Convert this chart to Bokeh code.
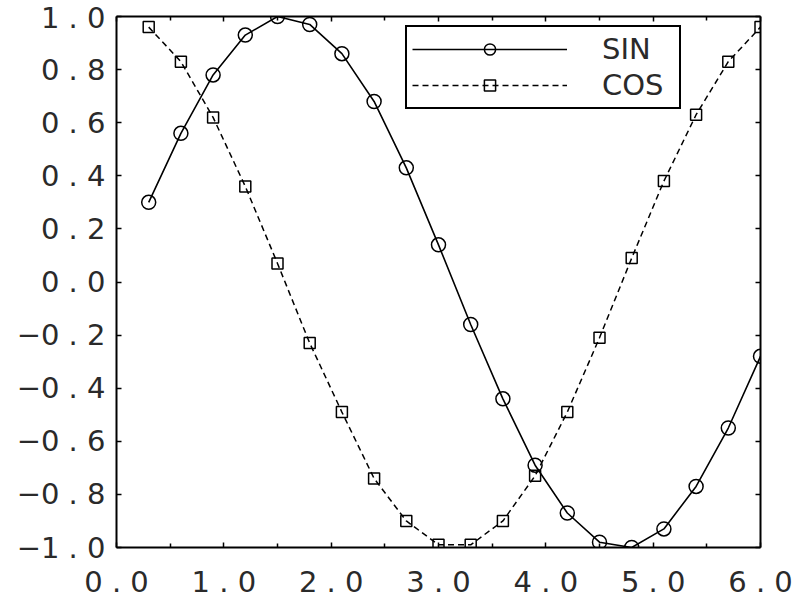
from bokeh.plotting import figure
from bokeh.models import Range1d, LinearAxis, FixedTicker, Legend, LegendItem, ColumnDataSource
from bokeh.embed import file_html
from bokeh.resources import INLINE

# ---- data ----
x_vals = [0.3, 0.6, 0.9, 1.2, 1.5, 1.8, 2.1, 2.4, 2.7, 3.0,
          3.3, 3.6, 3.9, 4.2, 4.5, 4.8, 5.1, 5.4, 5.7, 6.0]
sin_vals = [0.30, 0.56, 0.78, 0.93, 1.00, 0.97, 0.86, 0.68, 0.43, 0.14,
            -0.16, -0.44, -0.69, -0.87, -0.98, -1.00, -0.93, -0.77, -0.55, -0.28]
cos_vals = [0.96, 0.83, 0.62, 0.36, 0.07, -0.23, -0.49, -0.74, -0.90, -0.99,
            -0.99, -0.90, -0.73, -0.49, -0.21, 0.09, 0.38, 0.63, 0.83, 0.96]

x_ticks = [0.0, 1.0, 2.0, 3.0, 4.0, 5.0, 6.0]
x_tick_labels = ["0 . 0", "1 . 0", "2 . 0", "3 . 0", "4 . 0", "5 . 0", "6 . 0"]
x_minor_ticks = [0.5, 1.5, 2.5, 3.5, 4.5, 5.5]
y_ticks = [-1.0, -0.8, -0.6, -0.4, -0.2, 0.0, 0.2, 0.4, 0.6, 0.8, 1.0]
y_tick_labels = ["\u22121 . 0", "\u22120 . 8", "\u22120 . 6", "\u22120 . 4", "\u22120 . 2",
                 "0 . 0", "0 . 2", "0 . 4", "0 . 6", "0 . 8", "1 . 0"]
series_labels = ["SIN", "COS"]

src = ColumnDataSource(dict(x=x_vals, s=sin_vals, c=cos_vals))

FONT = "DejaVu Sans"
TXT = "#2a2a2a"

p = figure(width=794, height=601, x_range=Range1d(0, 6), y_range=Range1d(-1, 1),
           output_backend="svg", toolbar_location=None,
           x_axis_location=None, y_axis_location=None,
           min_border_left=116, min_border_right=34, min_border_top=16, min_border_bottom=53)
p.grid.visible = False
p.outline_line_color = None
p.background_fill_color = "white"
p.border_fill_color = "white"


def style_axis(ax):
    ax.axis_line_width = 2
    ax.axis_line_color = "black"
    ax.major_tick_in = 5
    ax.major_tick_out = 0
    ax.minor_tick_in = 4
    ax.minor_tick_out = 0
    ax.major_tick_line_width = 1.5
    ax.minor_tick_line_width = 1.5
    ax.major_label_text_font = FONT
    ax.major_label_text_font_size = "29px"
    ax.major_label_text_color = TXT


bottom = LinearAxis(ticker=FixedTicker(ticks=x_ticks, minor_ticks=x_minor_ticks),
                    major_label_overrides=dict(zip(x_ticks, x_tick_labels)))
style_axis(bottom)
bottom.major_label_standoff = 17
top = LinearAxis(ticker=FixedTicker(ticks=x_ticks, minor_ticks=x_minor_ticks),
                 major_label_overrides={t: "" for t in x_ticks})
style_axis(top)
top.major_label_standoff = 0
left = LinearAxis(ticker=FixedTicker(ticks=y_ticks),
                  major_label_overrides=dict(zip(y_ticks, y_tick_labels)))
style_axis(left)
left.major_label_standoff = 11
right = LinearAxis(ticker=FixedTicker(ticks=y_ticks),
                   major_label_overrides={t: "" for t in y_ticks})
style_axis(right)
right.major_label_standoff = 0

p.add_layout(bottom, "below")
p.add_layout(top, "above")
p.add_layout(left, "left")
p.add_layout(right, "right")

sin_line = p.line("x", "s", source=src, line_color="black", line_width=1.6)
sin_pts = p.scatter("x", "s", source=src, marker="circle", size=14,
                    fill_color=None, line_color="black", line_width=1.5)
cos_line = p.line("x", "c", source=src, line_color="black", line_width=1.5, line_dash="6 4")
cos_pts = p.scatter("x", "c", source=src, marker="square", size=11,
                    fill_color=None, line_color="black", line_width=1.5)

legend = Legend(items=[LegendItem(label=series_labels[0], renderers=[sin_line, sin_pts]),
                       LegendItem(label=series_labels[1], renderers=[cos_line, cos_pts])],
                location=(289, 438), padding=5, margin=0, spacing=2,
                glyph_width=155, glyph_height=28, label_standoff=35,
                label_width=72, label_height=28,
                label_text_font=FONT, label_text_font_size="29px", label_text_color=TXT,
                border_line_color="black", border_line_width=2, border_line_alpha=1.0,
                background_fill_color="white", background_fill_alpha=1.0)
p.add_layout(legend)

open("out.html", "w").write(file_html(p, INLINE))
